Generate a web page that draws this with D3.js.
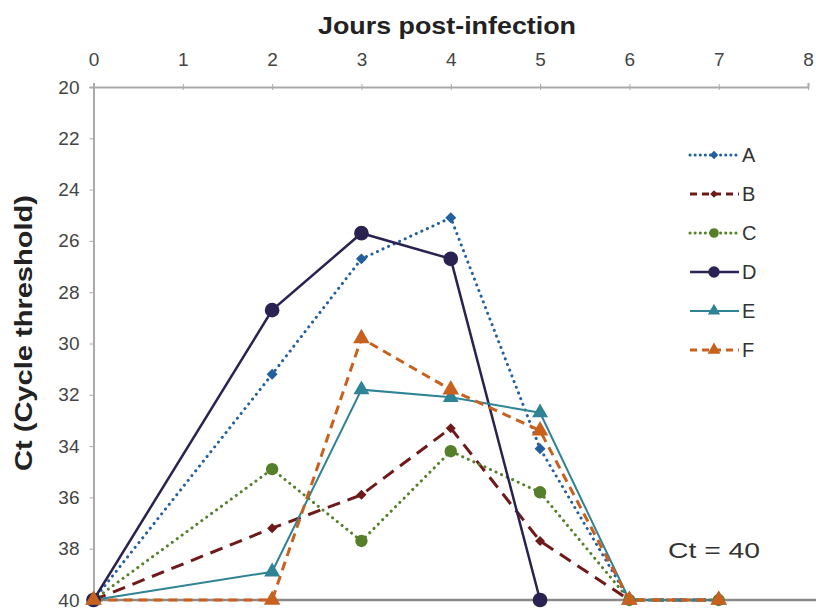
<!DOCTYPE html>
<html><head><meta charset="utf-8">
<script src="https://cdn.jsdelivr.net/npm/d3@7"></script>
<style>body{margin:0;background:#fff}svg{display:block}</style>
</head><body>
<svg id="c" width="816" height="612"></svg>
<script>
const days = [0, 2, 3, 4, 5, 6, 7];
const seriesNames = ["A", "B", "C", "D", "E", "F"];
const valuesA = [40, 31.2, 26.7, 25.1, 34.1, 40, 40];
const valuesB = [40, 37.2, 35.9, 33.3, 37.7, 40, 40];
const valuesC = [40, 34.9, 37.7, 34.2, 35.8, 40, 40];
const valuesD = [40, 28.7, 25.7, 26.7, 40, null, null];
const valuesE = [40, 38.9, 31.8, 32.1, 32.7, 40, 40];
const valuesF = [40, 40, 29.8, 31.8, 33.4, 40, 40];
const xTicks = [0, 1, 2, 3, 4, 5, 6, 7, 8];
const yTicks = [20, 22, 24, 26, 28, 30, 32, 34, 36, 38, 40];

const styles = {
  A: {color: "#245f9e", dash: "0.1 6", width: 3, cap: "round", shape: d3.symbolSquare, rot: 45, size: 60},
  B: {color: "#6e1a1a", dash: "13 8", width: 3, cap: "butt", shape: d3.symbolSquare, rot: 45, size: 50},
  C: {color: "#557f2a", dash: "0.1 6", width: 3, cap: "round", shape: d3.symbolCircle, rot: 0, size: 120},
  D: {color: "#2a2250", dash: null, width: 2.5, cap: "butt", shape: d3.symbolCircle, rot: 0, size: 170},
  E: {color: "#2e8494", dash: null, width: 2, cap: "butt", shape: d3.symbolTriangle, rot: 0, size: 110},
  F: {color: "#c8601e", dash: "9 6", width: 3, cap: "butt", shape: d3.symbolTriangle, rot: 0, size: 120}
};
const valuesBySeries = {A: valuesA, B: valuesB, C: valuesC, D: valuesD, E: valuesE, F: valuesF};

const svg = d3.select("#c");
const x = d3.scaleLinear().domain([0, 8]).range([93.5, 808]);
const y = d3.scaleLinear().domain([20, 40]).range([87, 600]);
const font = "'Liberation Sans Narrow','Arial Narrow','Liberation Sans',Arial,sans-serif";

// top axis
const xAxis = d3.axisTop(x).tickValues(xTicks).tickSize(4).tickFormat(d3.format("d"));
const gx = svg.append("g").attr("transform", `translate(0,${y(20)})`).call(xAxis);
gx.select(".domain").attr("stroke", "#aaa").attr("stroke-width", 2);
gx.selectAll(".tick line").attr("stroke", "#aaa").attr("y2", 3).attr("y1", -3);
gx.selectAll(".tick text").attr("font-family", font).attr("font-size", 19).attr("fill", "#444").attr("dy", "-0.75em");

// left axis
const yAxis = d3.axisLeft(y).tickValues(yTicks).tickSize(4).tickFormat(d3.format("d"));
const gy = svg.append("g").attr("transform", `translate(${x(0)},0)`).call(yAxis);
gy.select(".domain").attr("stroke", "#aaa").attr("stroke-width", 2);
gy.selectAll(".tick line").attr("stroke", "#aaa");
gy.selectAll(".tick text").attr("font-family", font).attr("font-size", 19).attr("fill", "#444").attr("x", -14);

// Ct = 40 line
svg.append("line").attr("x1", x(0)).attr("x2", 816).attr("y1", y(40)).attr("y2", y(40))
  .attr("stroke", "#8a8a8a").attr("stroke-width", 2.5);

// titles
svg.append("text").attr("x", 447).attr("y", 34).attr("text-anchor", "middle")
  .attr("font-family", font).attr("font-weight", "bold").attr("font-size", 24).attr("fill", "#222")
  .attr("textLength", 258).attr("lengthAdjust", "spacingAndGlyphs")
  .text("Jours post-infection");
svg.append("text").attr("transform", `translate(32,333) rotate(-90)`).attr("text-anchor", "middle")
  .attr("font-family", font).attr("font-weight", "bold").attr("font-size", 23).attr("fill", "#222")
  .attr("textLength", 276).attr("lengthAdjust", "spacingAndGlyphs")
  .text("Ct (Cycle threshold)");
svg.append("text").attr("x", 668).attr("y", 558).attr("font-family", font).attr("font-size", 22).attr("fill", "#333")
  .attr("textLength", 92).attr("lengthAdjust", "spacingAndGlyphs")
  .text("Ct = 40");

const line = d3.line().defined(d => d.v !== null).x(d => x(d.day)).y(d => y(d.v));

seriesNames.forEach(name => {
  const st = styles[name];
  const data = days.map((d, i) => ({day: d, v: valuesBySeries[name][i]}));
  svg.append("path").datum(data).attr("d", line).attr("fill", "none")
    .attr("stroke", st.color).attr("stroke-width", st.width).attr("stroke-linecap", st.cap)
    .attr("stroke-dasharray", st.dash);
});
seriesNames.forEach(name => {
  const st = styles[name];
  const data = days.map((d, i) => ({day: d, v: valuesBySeries[name][i]})).filter(d => d.v !== null);
  svg.append("g").selectAll("path").data(data).join("path")
    .attr("d", d3.symbol().type(st.shape).size(st.size))
    .attr("transform", d => `translate(${x(d.day)},${y(d.v)}) rotate(${st.rot})`)
    .attr("fill", st.color);
});

// legend
const legY0 = 155, legStep = 39;
seriesNames.forEach((name, i) => {
  const st = styles[name];
  const ly = legY0 + i * legStep;
  svg.append("line").attr("x1", 690).attr("x2", 739).attr("y1", ly).attr("y2", ly)
    .attr("stroke", st.color).attr("stroke-width", st.width).attr("stroke-linecap", st.cap)
    .attr("stroke-dasharray", st.dash ? (st.dash.startsWith("0.1") ? "0.1 5" : "7 5") : null);
  svg.append("path").attr("d", d3.symbol().type(st.shape).size(st.size * 0.6))
    .attr("transform", `translate(714,${ly}) rotate(${st.rot})`).attr("fill", st.color);
  svg.append("text").attr("x", 742).attr("y", ly + 7).attr("font-family", "'Liberation Sans',Arial,sans-serif")
    .attr("font-size", 20).attr("fill", "#333").text(name);
});
</script>
</body></html>
